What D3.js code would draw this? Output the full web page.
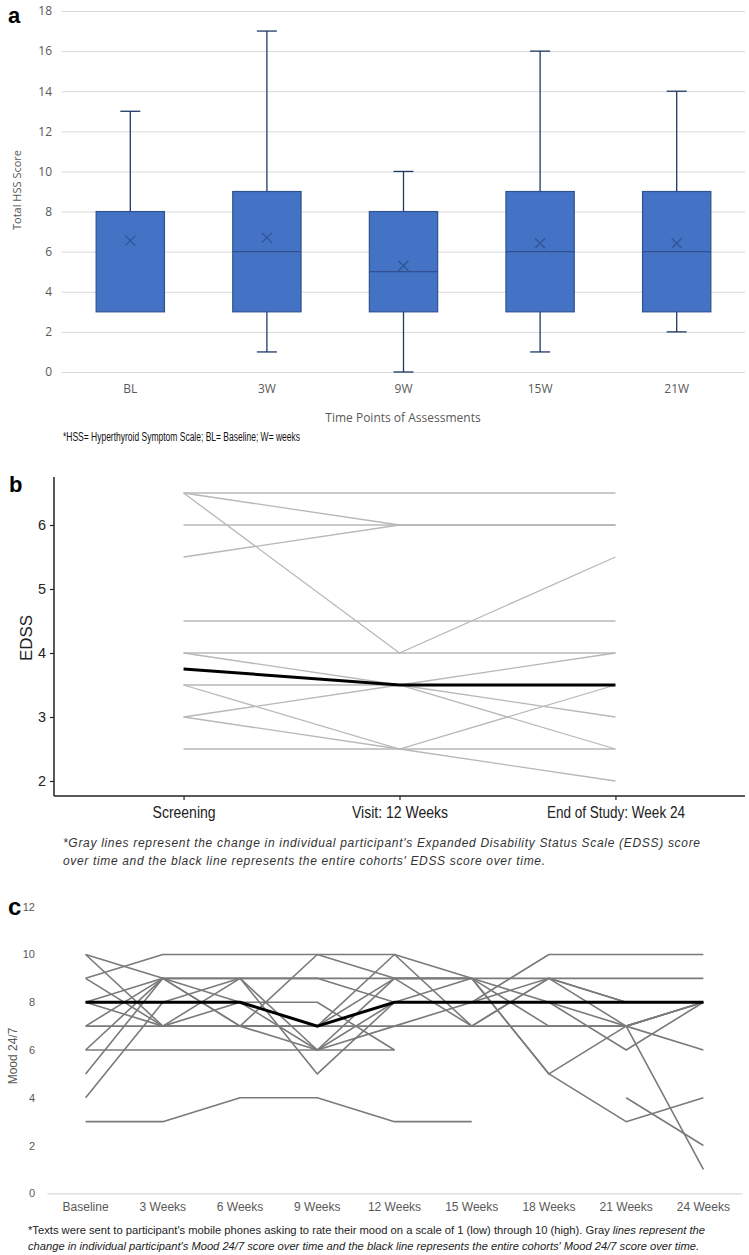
<!DOCTYPE html>
<html><head><meta charset="utf-8">
<script src="https://cdn.jsdelivr.net/npm/d3@7/dist/d3.min.js"></script>
<style>body{margin:0;background:#fff}svg{display:block}</style>
</head><body><svg id="c" width="749" height="1255"></svg>
<script>
// ---------- Panel a data ----------
const hssCats = ["BL","3W","9W","15W","21W"];
const hssMin  = [3, 1, 0, 1, 2];
const hssQ1   = [3, 3, 3, 3, 3];
const hssMed  = [null, 6, 5, 6, 6];
const hssQ3   = [8, 9, 8, 9, 9];
const hssMax  = [13, 17, 10, 16, 14];
const hssMean = [6.55, 6.7, 5.3, 6.42, 6.42];
const hssTicks = [0,2,4,6,8,10,12,14,16,18];

// ---------- Panel b data ----------
const edssCats = ["Screening","Visit: 12 Weeks","End of Study: Week 24"];
const edssP = [
  [6.5,6.5,6.5],[6.5,6.0,6.0],[6.5,4.0,5.5],[6.0,6.0,6.0],[5.5,6.0,6.0],
  [4.5,4.5,4.5],[4.0,4.0,4.0],[4.0,3.5,4.0],[3.5,3.5,3.0],[3.0,3.5,2.5],
  [3.5,2.5,3.5],[3.0,2.5,2.5],[2.5,2.5,2.0]
];
const edssCohort = [3.75,3.5,3.5];
const edssTicks = [2,3,4,5,6];

// ---------- Panel c data ----------
const moodCats = ["Baseline","3 Weeks","6 Weeks","9 Weeks","12 Weeks","15 Weeks","18 Weeks","21 Weeks","24 Weeks"];
const moodP = [
  [3,3,4,4,3,3,null,null,null],
  [9,10,10,10,10,7,9,8,8],
  [10,9,9,9,9,9,9,9,9],
  [7,7,7,7,7,7,7,7,6],
  [6,6,6,6,6,null,null,null,null],
  [8,8,8,8,6,null,null,null,null],
  [10,7,9,9,8,8,10,10,10],
  [4,8,9,6,8,9,5,7,8],
  [5,9,7,10,9,9,5,3,4],
  [6,9,8,7,10,9,7,7,1],
  [7,9,9,5,8,8,9,7,8],
  [8,9,7,6,9,9,8,6,8],
  [8,7,8,6,7,8,8,7,8],
  [9,7,7,7,9,7,9,8,8],
  [null,null,null,null,null,null,null,4,2]
];
const moodCohort = [8,8,8,7,8,8,8,8,8];
const moodTicks = [0,2,4,6,8,10,12];

const svg = d3.select("#c");

// ================= Panel a =================
(function(){
  const g = svg.append("g");
  const x = d3.scaleBand().domain(hssCats).range([62,745]);
  const y = d3.scaleLinear().domain([0,18]).range([372,11]);
  const font = "'Open Sans', 'Liberation Sans', sans-serif";
  const yAx = g.append("g").attr("transform","translate(62,0)")
    .call(d3.axisLeft(y).tickValues(hssTicks).tickSize(-683).tickPadding(10));
  yAx.select(".domain").remove();
  yAx.selectAll("line").attr("stroke","#d9d9d9").attr("stroke-width",1);
  yAx.selectAll("text").attr("fill","#595959").style("font-family",font).style("font-size","12px");
  const xAx = g.append("g").attr("transform","translate(0,372)")
    .call(d3.axisBottom(x).tickSize(0).tickPadding(12));
  xAx.select(".domain").remove();
  xAx.selectAll("text").attr("fill","#595959").style("font-family",font).style("font-size","12px");

  const bw = x.bandwidth()*0.5, cw = 20;
  hssCats.forEach((c,i)=>{
    const cx = x(c)+x.bandwidth()/2;
    const wc = "#203864";
    if (hssMax[i] > hssQ3[i]) {
      g.append("line").attr("x1",cx).attr("x2",cx).attr("y1",y(hssQ3[i])).attr("y2",y(hssMax[i])).attr("stroke",wc).attr("stroke-width",1.3);
      g.append("line").attr("x1",cx-cw/2).attr("x2",cx+cw/2).attr("y1",y(hssMax[i])).attr("y2",y(hssMax[i])).attr("stroke",wc).attr("stroke-width",1.3);
    }
    if (hssMin[i] < hssQ1[i]) {
      g.append("line").attr("x1",cx).attr("x2",cx).attr("y1",y(hssQ1[i])).attr("y2",y(hssMin[i])).attr("stroke",wc).attr("stroke-width",1.3);
      g.append("line").attr("x1",cx-cw/2).attr("x2",cx+cw/2).attr("y1",y(hssMin[i])).attr("y2",y(hssMin[i])).attr("stroke",wc).attr("stroke-width",1.3);
    }
    g.append("rect").attr("x",cx-bw/2).attr("width",bw).attr("y",y(hssQ3[i])).attr("height",y(hssQ1[i])-y(hssQ3[i]))
      .attr("fill","#4472C4").attr("stroke","#2F528F").attr("stroke-width",1.2);
    if (hssMed[i]!==null)
      g.append("line").attr("x1",cx-bw/2).attr("x2",cx+bw/2).attr("y1",y(hssMed[i])).attr("y2",y(hssMed[i])).attr("stroke","#2F528F").attr("stroke-width",1.2);
    const my = y(hssMean[i]), s=5;
    g.append("path").attr("d",`M${cx-s},${my-s}L${cx+s},${my+s}M${cx-s},${my+s}L${cx+s},${my-s}`)
      .attr("stroke","#2F5597").attr("stroke-width",1.3).attr("fill","none");
  });
  g.append("text").attr("transform","translate(21,190) rotate(-90)").attr("text-anchor","middle")
    .attr("fill","#595959").style("font-family",font).style("font-size","11px").text("Total HSS Score");
  g.append("text").attr("x",403).attr("y",422).attr("text-anchor","middle")
    .attr("fill","#595959").style("font-family",font).style("font-size","12px").text("Time Points of Assessments");
  g.append("text").attr("x",63).attr("y",441).attr("textLength",237).attr("lengthAdjust","spacingAndGlyphs")
    .attr("fill","#111").style("font-family","'Liberation Sans',Arial,sans-serif").style("font-size","12.5px")
    .text("*HSS= Hyperthyroid Symptom Scale; BL= Baseline; W= weeks");
  g.append("text").attr("x",8).attr("y",23).style("font-family","'Liberation Sans',Arial,sans-serif").style("font-weight","bold").style("font-size","22px").text("a");
})();

// ================= Panel b =================
(function(){
  const g = svg.append("g");
  const x = d3.scalePoint().domain(edssCats).range([54,745]).padding(0.6);
  const y = d3.scaleLinear().domain([2,6]).range([781,525]);
  const nfont = "'Liberation Sans',Arial,sans-serif";
  const labelLen = {"Screening":63,"Visit: 12 Weeks":96,"End of Study: Week 24":138};
  const line = d3.line().x((d,i)=>x(edssCats[i])).y(d=>y(d));
  g.selectAll("path.p").data(edssP).join("path").attr("class","p").attr("d",line)
    .attr("fill","none").attr("stroke","#b8b8b8").attr("stroke-width",1.3);
  g.append("path").attr("d",line(edssCohort)).attr("fill","none").attr("stroke","#000").attr("stroke-width",3);
  const yAx = g.append("g").attr("transform","translate(54,0)")
    .call(d3.axisLeft(y).tickValues(edssTicks).tickFormat(d3.format("d")).tickSize(4).tickPadding(4));
  yAx.select(".domain").attr("d","M0,477V796").attr("stroke","#222").attr("stroke-width",1.5);
  yAx.selectAll("line").attr("stroke","#222").attr("stroke-width",1.2);
  yAx.selectAll("text").attr("fill","#222").style("font-family",nfont).style("font-size","15px")
    .attr("textLength",8).attr("lengthAdjust","spacingAndGlyphs");
  const xAx = g.append("g").attr("transform","translate(0,796)").call(d3.axisBottom(x).tickSize(4).tickPadding(7));
  xAx.select(".domain").attr("d","M54,0H745").attr("stroke","#222").attr("stroke-width",1.5);
  xAx.selectAll("line").attr("stroke","#222").attr("stroke-width",1.2);
  xAx.selectAll("text").attr("fill","#222").style("font-family",nfont).style("font-size","16px")
    .attr("textLength",d=>labelLen[d]).attr("lengthAdjust","spacingAndGlyphs");
  g.append("text").attr("transform","translate(32,638) rotate(-90)").attr("text-anchor","middle")
    .attr("textLength",46).attr("lengthAdjust","spacingAndGlyphs")
    .attr("fill","#222").style("font-family",nfont).style("font-size","17px").text("EDSS");
  const cf = "'Liberation Sans',Arial,sans-serif";
  g.append("text").attr("x",63).attr("y",847).attr("textLength",637).attr("lengthAdjust","spacing")
    .attr("fill","#333").style("font-family",cf).style("font-style","italic").style("font-size","12px")
    .text("*Gray lines represent the change in individual participant's Expanded Disability Status Scale (EDSS) score");
  g.append("text").attr("x",63).attr("y",865).attr("textLength",482).attr("lengthAdjust","spacing")
    .attr("fill","#333").style("font-family",cf).style("font-style","italic").style("font-size","12px")
    .text("over time and the black line represents the entire cohorts' EDSS score over time.");
  g.append("text").attr("x",9).attr("y",492).style("font-family",cf).style("font-weight","bold").style("font-size","22px").text("b");
})();

// ================= Panel c =================
(function(){
  const g = svg.append("g");
  const x = d3.scaleBand().domain(moodCats).range([47,742]);
  const y = d3.scaleLinear().domain([0,12]).range([1193.3,906.7]);
  const font = "'Liberation Sans',Arial,sans-serif";
  const cx = c => x(c)+x.bandwidth()/2;
  const line = d3.line().defined(d=>d!==null).x((d,i)=>cx(moodCats[i])).y(d=>y(d));
  g.selectAll("path.p").data(moodP).join("path").attr("class","p").attr("d",line)
    .attr("fill","none").attr("stroke","#7a7a7a").attr("stroke-width",1.6).attr("stroke-linejoin","round");
  g.append("path").attr("d",line(moodCohort)).attr("fill","none").attr("stroke","#000").attr("stroke-width",3);
  const yAx = g.append("g").attr("transform","translate(47,0)").call(d3.axisLeft(y).tickValues(moodTicks).tickSize(0).tickPadding(12));
  yAx.select(".domain").remove();
  yAx.selectAll("text").attr("fill","#595959").style("font-family",font).style("font-size","11px");
  const xAx = g.append("g").attr("transform","translate(0,1193.3)").call(d3.axisBottom(x).tickSize(0).tickPadding(9));
  xAx.select(".domain").attr("stroke","#d9d9d9").attr("stroke-width",1.2);
  xAx.selectAll("text").attr("fill","#595959").style("font-family",font).style("font-size","12px");
  g.append("text").attr("transform","translate(17,1056) rotate(-90)").attr("text-anchor","middle")
    .attr("fill","#595959").style("font-family",font).style("font-size","12px").text("Mood 24/7");
  const nf = "'Liberation Sans',Arial,sans-serif";
  const t1 = g.append("text").attr("x",28).attr("y",1234).attr("textLength",677).attr("lengthAdjust","spacingAndGlyphs")
    .attr("fill","#222").style("font-family",nf).style("font-size","11px");
  t1.append("tspan").text("*Texts were sent to participant's mobile phones asking to rate their mood on a scale of 1 (low) through 10 (high). Gray ");
  t1.append("tspan").style("font-style","italic").text("lines represent the");
  g.append("text").attr("x",28).attr("y",1250).attr("textLength",671).attr("lengthAdjust","spacingAndGlyphs")
    .attr("fill","#222").style("font-family",nf).style("font-style","italic").style("font-size","11px")
    .text("change in individual participant's Mood 24/7 score over time and the black line represents the entire cohorts' Mood 24/7 score over time.");
  g.append("text").attr("x",8).attr("y",915).style("font-family",font).style("font-weight","bold").style("font-size","24px").text("c");
})();
</script></body></html>
